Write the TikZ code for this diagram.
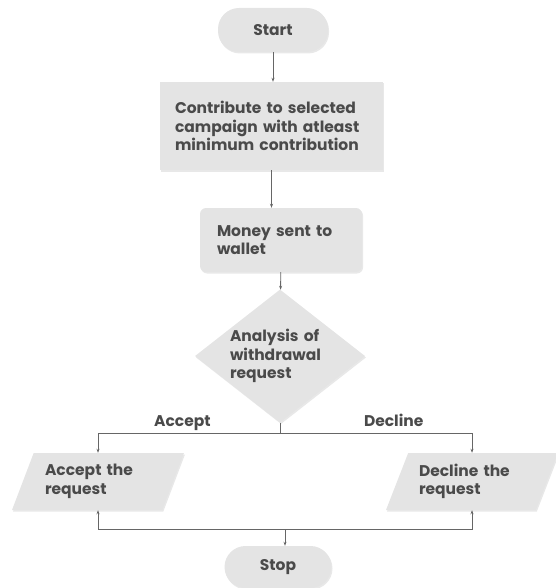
\documentclass[tikz,border=0pt]{standalone}
\usepackage{fontspec}
\setmainfont{Poppins}
\usetikzlibrary{shapes.geometric,arrows.meta,shadows}
\definecolor{boxfill}{HTML}{E4E4E4}
\definecolor{linegray}{HTML}{666666}
\definecolor{textgray}{HTML}{4A4A4A}
\begin{document}
\begin{tikzpicture}[x=1pt,y=-1pt,
  every node/.style={font=\bfseries\fontsize{15.5}{18.5}\selectfont,text=textgray},
  block/.style={fill=boxfill,draw=none,drop shadow={shadow xshift=1pt,shadow yshift=-1.5pt,opacity=0.18}},
  pill/.style={block,rectangle,rounded corners=21pt,minimum width=110pt,minimum height=44pt},
  io/.style={block,trapezium,trapezium left angle=62,trapezium right angle=118,
    trapezium stretches body,minimum width=172pt,minimum height=57pt,text width=106pt,align=left},
  branch/.style={above,inner sep=2pt,text height=11pt,text depth=4pt},
  arr/.style={draw=linegray,line width=0.8pt,-{Stealth[length=4pt,width=3pt]}},
  ln/.style={draw=linegray,line width=0.8pt}]
\useasboundingbox (0,0) rectangle (555,588);
\node[pill] (start) at (273,30) {Start};
\node[block,rectangle,inner xsep=15pt,minimum width=223pt,minimum height=88pt,text width=193pt,align=left] (contrib) at (271.5,126)
  {Contribute to selected\\campaign with atleast\\minimum contribution};
\node[block,rectangle,rounded corners=6pt,inner xsep=17pt,minimum width=162pt,minimum height=64pt,text width=128pt,align=left] (wallet) at (281,240)
  {Money sent to\\wallet};
\node[block,diamond,aspect=1.28,inner sep=0pt,minimum width=170pt,minimum height=133pt,text width=100pt,align=left] (analysis) at (280,356)
  {Analysis of\\withdrawal\\request};
\node[io] (accept) at (98,481.5) {Accept the\\request};
\node[io] (decline) at (472,481.5) {Decline the\\request};
\node[pill,minimum width=107pt,minimum height=42pt] (stop) at (278,567) {Stop};
\coordinate (split) at (280,433);
\coordinate (join) at (285,529);
\draw[arr] (start) -- (start |- contrib.north);
\draw[arr] (contrib.south) -- (contrib.south |- wallet.north);
\draw[arr] (wallet) -- (analysis);
\draw[ln] (analysis.south) -- (split);
\draw[arr] (split) -| node[pos=0.268,branch] {Accept} (accept.north);
\draw[arr] (split) -| node[pos=0.296,branch] {Decline} (decline.north);
\draw[arr] (join) -| (accept.south);
\draw[arr] (join) -| (decline.south);
\draw[arr] (join) -- (join |- stop.north);
\end{tikzpicture}
\end{document}
